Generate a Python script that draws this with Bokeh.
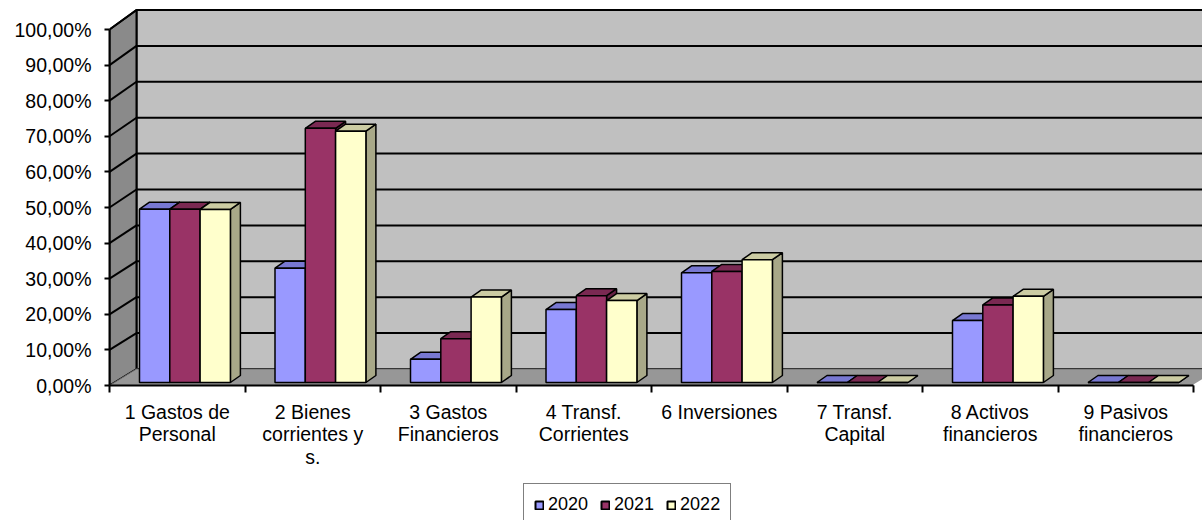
from bokeh.plotting import figure
from bokeh.layouts import column
from bokeh.models import Range1d, FixedTicker, Legend, LegendItem
from bokeh.embed import file_html
from bokeh.resources import INLINE

# ---------------- data ----------------
categories = ["1 Gastos de\nPersonal", "2 Bienes\ncorrientes y\ns.", "3 Gastos\nFinancieros",
              "4 Transf.\nCorrientes", "6 Inversiones", "7 Transf.\nCapital",
              "8 Activos\nfinancieros", "9 Pasivos\nfinancieros"]
years = ["2020", "2021", "2022"]
v2020 = [48.7, 32.1, 6.5, 20.5, 30.8, 0.0, 17.4, 0.0]
v2021 = [48.7, 71.4, 12.3, 24.4, 31.2, 0.0, 21.8, 0.0]
v2022 = [48.6, 70.6, 24.0, 23.0, 34.5, 0.0, 24.2, 0.0]
y_ticks = [0, 10, 20, 30, 40, 50, 60, 70, 80, 90, 100]
y_tick_labels = ["0,00%", "10,00%", "20,00%", "30,00%", "40,00%", "50,00%",
                 "60,00%", "70,00%", "80,00%", "90,00%", "100,00%"]

front_colors = ["#9999FF", "#993366", "#FFFFCC"]
top_colors = ["#7878D2", "#7A2952", "#CCCCA3"]
side_colors = ["#6666AA", "#662244", "#A8A888"]

# ---------------- layout ----------------
W = 1202
H_MAIN, H_LEG = 482, 38
LEFT, BOTTOM = 109, 97
frame_w = W - LEFT
frame_h = H_MAIN - BOTTOM
PX = 135.5        # px per category
PY = 3.56         # px per percent (front plane)
x_end = frame_w / PX
y_end = frame_h / PY
n = len(categories)

FONT = "Liberation Sans"

p = figure(width=W, height=H_MAIN, output_backend="svg", toolbar_location=None,
           x_range=Range1d(0, x_end), y_range=Range1d(0, y_end),
           min_border_left=LEFT, min_border_bottom=BOTTOM, min_border_top=0,
           min_border_right=0, background_fill_color="white",
           border_fill_color="white", outline_line_color=None)
p.xgrid.visible = False
p.ygrid.visible = False

# depth geometry (pixel offsets converted to data units)
WALL_DX = 27 / PX


def back_y(v):
    return (16.5 + 3.59 * v) / PY


# walls and floor
p.patch([WALL_DX, n + WALL_DX, n + WALL_DX, WALL_DX],
        [back_y(0), back_y(0), back_y(100), back_y(100)],
        fill_color="#C0C0C0", line_color="black", line_width=2)
p.patch([0, 0, WALL_DX, WALL_DX], [0, 100, back_y(100), back_y(0)],
        fill_color="#8A8A8A", line_color="black", line_width=2)
p.patch([0, n, n + WALL_DX, WALL_DX], [0, 0, back_y(0), back_y(0)],
        fill_color="#979797", line_color="#6E6E6E", line_width=1)
p.segment([n], [0], [n + WALL_DX], [back_y(0)], line_color="white", line_width=2)

# gridlines on back and left walls
gx0, gy0, gx1, gy1 = [], [], [], []
for v in y_ticks[1:]:
    gx0 += [WALL_DX, 0]
    gy0 += [back_y(v), v]
    gx1 += [n + WALL_DX, WALL_DX]
    gy1 += [back_y(v), back_y(v)]
p.segment(gx0, gy0, gx1, gy1, line_color="black", line_width=2)

# bars
BAR_OFF = 30 / PX
BAR_W = 30.3 / PX
BAR_B = 3 / PY
DDX = 10 / PX
DDY = 7 / PY
series = [v2020, v2021, v2022]
xs, ys, fills = [], [], []
for g in range(n):
    for s, vals in enumerate(series):
        l = g + BAR_OFF + s * BAR_W
        r = l + BAR_W
        b = BAR_B
        t = BAR_B + vals[g]
        xs.append([r, r, r + DDX, r + DDX]); ys.append([b, t, t + DDY, b + DDY]); fills.append(side_colors[s])
        xs.append([l, r, r + DDX, l + DDX]); ys.append([t, t, t + DDY, t + DDY]); fills.append(top_colors[s])
        xs.append([l, r, r, l]); ys.append([b, b, t, t]); fills.append(front_colors[s])
p.patches(xs, ys, fill_color=fills, line_color="black", line_width=1.5)

# axes
ya = p.yaxis[0]
ya.ticker = FixedTicker(ticks=y_ticks)
ya.major_label_overrides = {v: lab for v, lab in zip(y_ticks, y_tick_labels)}
ya.bounds = (0, 100)
ya.minor_tick_line_color = None
ya.major_tick_out = 5
ya.major_tick_in = 0
ya.major_tick_line_width = 2
ya.axis_line_width = 2
ya.major_label_standoff = 13
ya.major_label_text_font = FONT
ya.major_label_text_font_size = "19.5px"
ya.major_label_text_color = "black"

xa = p.xaxis[0]
xa.ticker = FixedTicker(ticks=[g + 0.5 for g in range(n)], minor_ticks=list(range(n + 1)))
xa.major_label_overrides = {g + 0.5: categories[g] for g in range(n)}
xa.bounds = (0, n)
xa.major_tick_line_color = None
xa.major_tick_out = 0
xa.major_tick_in = 0
xa.minor_tick_out = 7
xa.minor_tick_in = 0
xa.minor_tick_line_width = 2
xa.minor_tick_line_color = "black"
xa.axis_line_width = 2
xa.major_label_standoff = 8
xa.major_label_text_font = FONT
xa.major_label_text_font_size = "19.5px"
xa.major_label_text_line_height = 1.03
xa.major_label_text_color = "black"

# legend strip below the chart (frame aligned with the chart frame)
pl = figure(width=W, height=H_LEG, output_backend="svg", toolbar_location=None,
            x_range=Range1d(0, W - LEFT), y_range=Range1d(0, H_LEG),
            x_axis_location=None, y_axis_location=None,
            min_border_left=LEFT, min_border_right=0, min_border_top=0,
            min_border_bottom=0, outline_line_color=None,
            background_fill_color="white", border_fill_color="white")
pl.xgrid.visible = False
pl.ygrid.visible = False
items = []
for s, yr in enumerate(years):
    r = pl.quad(left=[-50], right=[-40], top=[-50], bottom=[-60], fill_color=front_colors[s],
                line_color="black", line_width=2)
    items.append(LegendItem(label=yr, renderers=[r]))
LEG_PAD = 10
LEG_H = 43
legend = Legend(items=items, orientation="horizontal",
                location=(523 - LEFT, H_LEG - 1 - LEG_H),
                glyph_width=10, glyph_height=10, label_standoff=4, spacing=12,
                padding=LEG_PAD, margin=0, border_line_color="black", border_line_width=1,
                label_text_font=FONT, label_text_font_size="18px", label_text_color="black",
                background_fill_color="white", background_fill_alpha=1.0)
pl.add_layout(legend)

layout = column(p, pl, spacing=0)
open("out.html", "w").write(file_html(layout, INLINE))
